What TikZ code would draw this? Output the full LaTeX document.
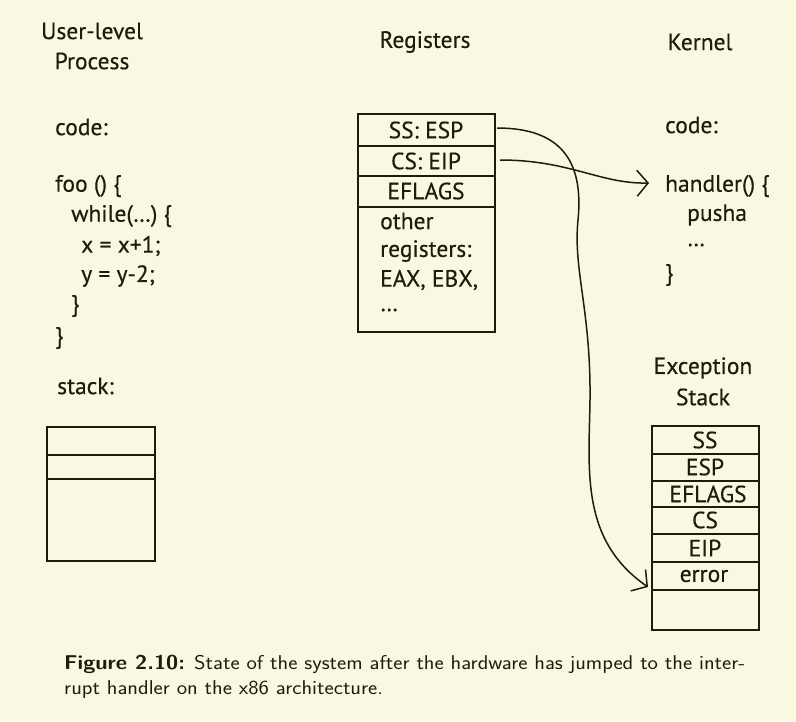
\documentclass[tikz,border=0pt]{standalone}
\usepackage{fontspec}
\setmainfont{PT Sans}[FakeBold=0.35]
\usetikzlibrary{arrows.meta}
\definecolor{bg}{RGB}{250,248,224}
\definecolor{ink}{RGB}{30,28,10}
\begin{document}
\begin{tikzpicture}[x=1pt,y=-1pt,
  every node/.style={text=ink,inner sep=0pt,font=\fontsize{23.5}{29}\selectfont},
  lbl/.style={anchor=west},
  ctr/.style={anchor=center},
  box/.style={draw=ink,line width=1.8pt},
  sep/.style={draw=ink,line width=1.6pt},
  arr/.style={draw=ink,line width=1.5pt,-{Straight Barb[length=11pt,width=26pt,line width=1.5pt]}},
  captxt/.style={anchor=west,xscale=1.1,font=\sffamily\fontsize{20}{26}\selectfont}]
\fill[bg] (0,0) rectangle (796,721);
\useasboundingbox (0,0) rectangle (796,721);

% User-level process
\node[ctr] (uh1) at (92,31) {User-level};
\node[ctr] (uh2) at (92,61) {Process};
\node[lbl] (ucode) at (55,127) {code:};
\node[lbl] (u1) at (55,186) {foo () \{};
\node[lbl] (u2) at (71,216) {while(…) \{};
\node[lbl] (u3) at (81,246) {x = x+1;};
\node[lbl] (u4) at (81,276) {y = y-2;};
\node[lbl] (u5) at (71,306) {\}};
\node[lbl] (u6) at (55,338) {\}};
\node[lbl] (ustack) at (57,386) {stack:};
\draw[box] (47,427) rectangle (155,561);
\draw[sep] (47,455) -- (155,455);
\draw[sep] (47,479) -- (155,479);

% Registers
\node[ctr] (rh) at (425,42) {Registers};
\draw[box] (358,114) rectangle (495,332);
\draw[sep] (358,146) -- (495,146);
\draw[sep] (358,176) -- (495,176);
\draw[sep] (358,207) -- (495,207);
\node[ctr] (ssesp) at (426,130) {SS: ESP};
\node[ctr] (cseip) at (426,161) {CS: EIP};
\node[ctr] (eflags) at (426,191) {EFLAGS};
\node[lbl] (o1) at (380,221) {other};
\node[lbl] (o2) at (380,251) {registers:};
\node[lbl] (o3) at (380,280) {EAX, EBX,};
\node[lbl] (o4) at (380,310) {…};
\coordinate (ssout) at (497,128);
\coordinate (csout) at (500,160);

% Kernel
\node[ctr] (kh) at (700,42) {Kernel};
\node[lbl] (kcode) at (665,125) {code:};
\node[lbl] (k1) at (665,186) {handler() \{};
\node[lbl] (k2) at (687,215) {pusha};
\node[lbl] (k3) at (687,245) {…};
\node[lbl] (k4) at (665,275) {\}};
\coordinate (hin) at (649,183);

% Exception stack
\node[ctr] (eh1) at (703,368) {Exception};
\node[ctr] (eh2) at (703,397) {Stack};
\draw[box] (652,426) rectangle (759,630);
\foreach \yy in {454,481,507,534,562,590} \draw[sep] (652,\yy) -- (759,\yy);
\node[ctr] (ess) at (705,440) {SS};
\node[ctr] (eesp) at (705,467) {ESP};
\node[ctr] (efl) at (708,494) {EFLAGS};
\node[ctr] (ecs) at (705,520) {CS};
\node[ctr] (eeip) at (705,548) {EIP};
\node[ctr] (eerr) at (704,576) {error};
\coordinate (errin) at (648,587);

% Arrows
\draw[arr] (csout) .. controls (570,160) and (600,184) .. (hin);
\draw[arr] (ssout) .. controls (560,128) and (584,160) .. (578,220)
  .. controls (573,270) and (591,310) .. (590,400)
  .. controls (589,470) and (580,540) .. (errin);

% Caption
\node[captxt] (c1) at (64,664) {\textbf{Figure 2.10:} State of the system after the hardware has jumped to the inter-};
\node[captxt] (c2) at (64,690) {rupt handler on the x86 architecture.};
\end{tikzpicture}
\end{document}
